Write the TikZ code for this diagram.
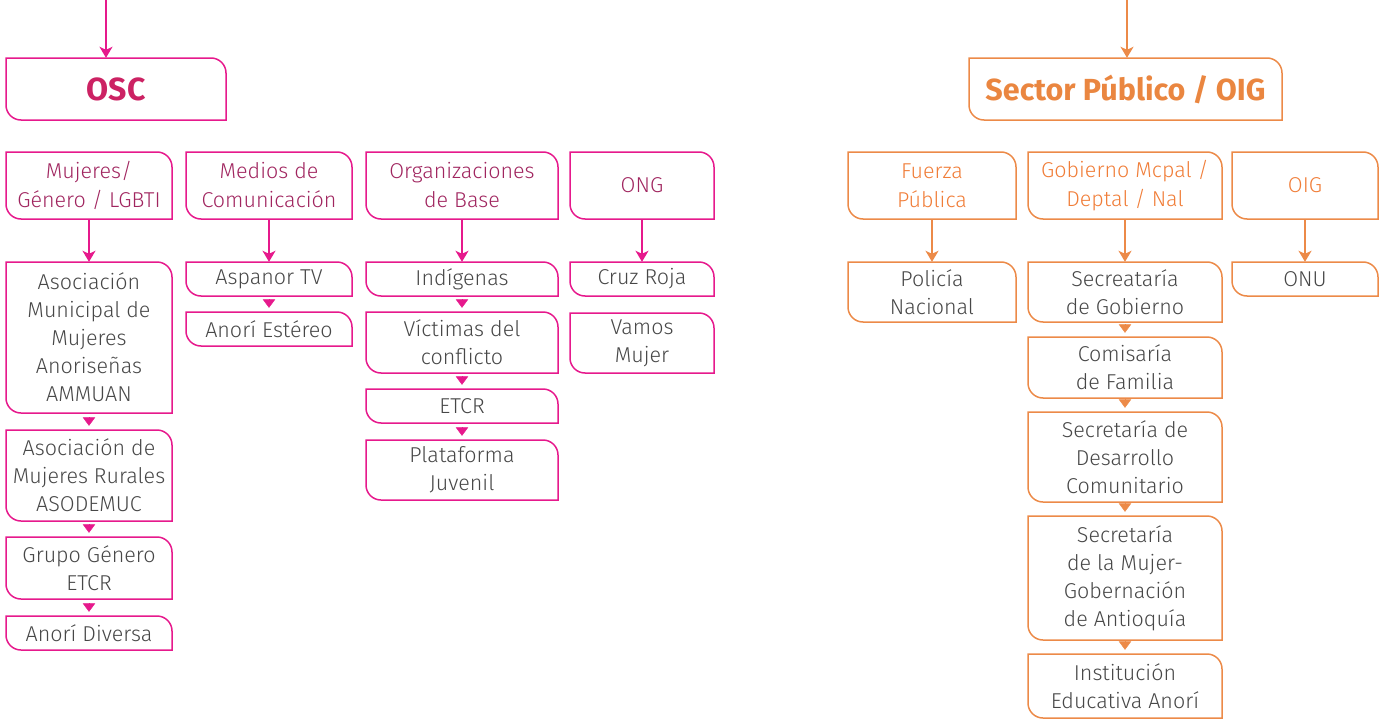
\documentclass[tikz,border=0pt]{standalone}
\usepackage{fontspec}
\setmainfont{Fira Sans Light}[BoldFont={Fira Sans SemiBold}]
\newfontfamily\headfont{Fira Sans}
\usetikzlibrary{arrows.meta}

\definecolor{pinkln}{HTML}{E6198C}
\definecolor{pinkttl}{HTML}{CC2263}
\definecolor{pinksub}{HTML}{A0255F}
\definecolor{orgln}{HTML}{EC8A48}
\definecolor{orgttl}{HTML}{EA8640}
\definecolor{orgsub}{HTML}{F07D38}
\definecolor{txtgray}{HTML}{474747}

% Box with rounded top-right and bottom-left corners and a named node over it
% #1 name, #2 outline style, #3 text style, #4 x1, #5 y1, #6 x2, #7 y2, #8 text
\newcommand{\cbox}[8]{%
  \draw[#2] (#4,#5) -- ({#6-15},#5) arc[start angle=90,end angle=0,radius=15pt]
    -- (#6,#7) -- ({#4+15},#7) arc[start angle=270,end angle=180,radius=15pt] -- cycle;
  \node[#3, inner sep=0pt, align=center, minimum width={#6pt-#4pt}, minimum height={#7pt-#5pt}]
    (#1) at ({(#4+#6)/2},{(#5+#7)/2}) {#8};
}

\begin{document}
\begin{tikzpicture}[x=1pt, y=-1pt,
  pinkbox/.style={draw=pinkln, line width=1.5pt},
  orgbox/.style={draw=orgln, line width=1.5pt},
  pinkttl/.style={text=pinkttl, font=\headfont\fontsize{32}{36}\selectfont\bfseries},
  orgttl/.style={text=orgttl, font=\headfont\fontsize{30.5}{36}\selectfont\bfseries},
  pinksub/.style={text=pinksub, font=\fontsize{21.5}{29}\selectfont},
  orgsub/.style={text=orgsub, font=\fontsize{21.5}{29}\selectfont},
  body/.style={text=txtgray, font=\fontsize{21.5}{28}\selectfont},
  parrow/.style={draw=pinkln, line width=1.6pt, -{Stealth[length=11pt,width=13pt,inset=3pt]}},
  oarrow/.style={draw=orgln, line width=1.6pt, -{Stealth[length=11pt,width=13pt,inset=3pt]}},
  ptri/.style={draw=pinkln, fill=pinkln, line width=0.5pt, -{Triangle[length=8.5pt,width=12.5pt]}, shorten <=4pt, shorten >=4pt},
  otri/.style={draw=orgln, fill=orgln, line width=0.5pt, -{Triangle[length=8.5pt,width=12.5pt]}, shorten <=4pt, shorten >=4pt}
]
\useasboundingbox (0,0) rectangle (1385,720);

% ---------- OSC ----------
\cbox{osc}{pinkbox}{pinkttl}{6}{58}{226}{120}{OSC}
\cbox{mujeres}{pinkbox}{pinksub}{6}{152}{172}{219}{Mujeres/\\Género / LGBTI}
\cbox{medios}{pinkbox}{pinksub}{186}{152}{352}{219}{Medios de\\Comunicación}
\cbox{orgbase}{pinkbox}{pinksub}{366}{152}{558}{219}{Organizaciones\\de Base}
\cbox{ong}{pinkbox}{pinksub}{570}{152}{714}{219}{ONG}

\cbox{ammuan}{pinkbox}{body}{6}{262}{172}{413}{Asociación\\Municipal de\\Mujeres\\Anoriseñas\\AMMUAN}
\cbox{asodemuc}{pinkbox}{body}{6}{430}{172}{521}{Asociación de\\Mujeres Rurales\\ASODEMUC}
\cbox{grupo}{pinkbox}{body}{6}{537}{172}{599}{Grupo Género\\ETCR}
\cbox{diversa}{pinkbox}{body}{6}{616}{172}{650}{Anorí Diversa}

\cbox{aspanor}{pinkbox}{body}{186}{262}{352}{296}{Aspanor TV}
\cbox{estereo}{pinkbox}{body}{186}{312}{352}{346}{Anorí Estéreo}

\cbox{indigenas}{pinkbox}{body}{366}{262}{558}{296}{Indígenas}
\cbox{victimas}{pinkbox}{body}{366}{312}{558}{373}{Víctimas del\\conflicto}
\cbox{etcr}{pinkbox}{body}{366}{389}{558}{423}{ETCR}
\cbox{plataforma}{pinkbox}{body}{366}{440}{558}{500}{Plataforma\\Juvenil}

\cbox{cruz}{pinkbox}{body}{570}{262}{714}{296}{Cruz Roja}
\cbox{vamos}{pinkbox}{body}{570}{313}{714}{373}{Vamos\\Mujer}

\coordinate (oscin) at (106,0);
\draw[parrow] (oscin) -- (oscin |- osc.north);
\draw[parrow] (mujeres.south) -- (ammuan.north);
\draw[parrow] (medios.south) -- (aspanor.north);
\draw[parrow] (orgbase.south) -- (indigenas.north);
\draw[parrow] (ong.south) -- (cruz.north);

\draw[ptri] (ammuan.south) -- (asodemuc.north);
\draw[ptri] (asodemuc.south) -- (grupo.north);
\draw[ptri] (grupo.south) -- (diversa.north);
\draw[ptri] (aspanor.south) -- (estereo.north);
\draw[ptri] (indigenas.south) -- (victimas.north);
\draw[ptri] (victimas.south) -- (etcr.north);
\draw[ptri] (etcr.south) -- (plataforma.north);

% ---------- Sector Público / OIG ----------
\cbox{sector}{orgbox}{orgttl}{969}{58}{1282}{120}{Sector Público / OIG}
\cbox{fuerza}{orgbox}{orgsub}{848}{152}{1016}{219}{Fuerza\\Pública}
\cbox{gobierno}{orgbox}{orgsub}{1028}{152}{1222}{219}{Gobierno Mcpal /\\Deptal / Nal}
\cbox{oig}{orgbox}{orgsub}{1232}{152}{1378}{219}{OIG}

\cbox{policia}{orgbox}{body}{848}{262}{1016}{322}{Policía\\Nacional}
\cbox{secgob}{orgbox}{body}{1028}{262}{1222}{322}{Secreataría\\de Gobierno}
\cbox{onu}{orgbox}{body}{1232}{262}{1378}{296}{ONU}
\cbox{comisaria}{orgbox}{body}{1028}{337}{1222}{398}{Comisaría\\de Familia}
\cbox{desarrollo}{orgbox}{body}{1028}{412}{1222}{502}{Secretaría de\\Desarrollo\\Comunitario}
\cbox{secmujer}{orgbox}{body}{1028}{516}{1222}{640}{Secretaría\\de la Mujer-\\Gobernación\\de Antioquía}
\cbox{institucion}{orgbox}{body}{1028}{654}{1222}{718}{Institución\\Educativa Anorí}

\coordinate (sectorin) at (1127,0);
\draw[oarrow] (sectorin) -- (sectorin |- sector.north);
\draw[oarrow] (fuerza.south) -- (policia.north);
\draw[oarrow] (gobierno.south) -- (secgob.north);
\draw[oarrow] (oig.south) -- (onu.north);

\draw[otri] (secgob.south) -- (comisaria.north);
\draw[otri] (comisaria.south) -- (desarrollo.north);
\draw[otri] (desarrollo.south) -- (secmujer.north);
\draw[otri] (secmujer.south) -- (institucion.north);
\end{tikzpicture}
\end{document}
